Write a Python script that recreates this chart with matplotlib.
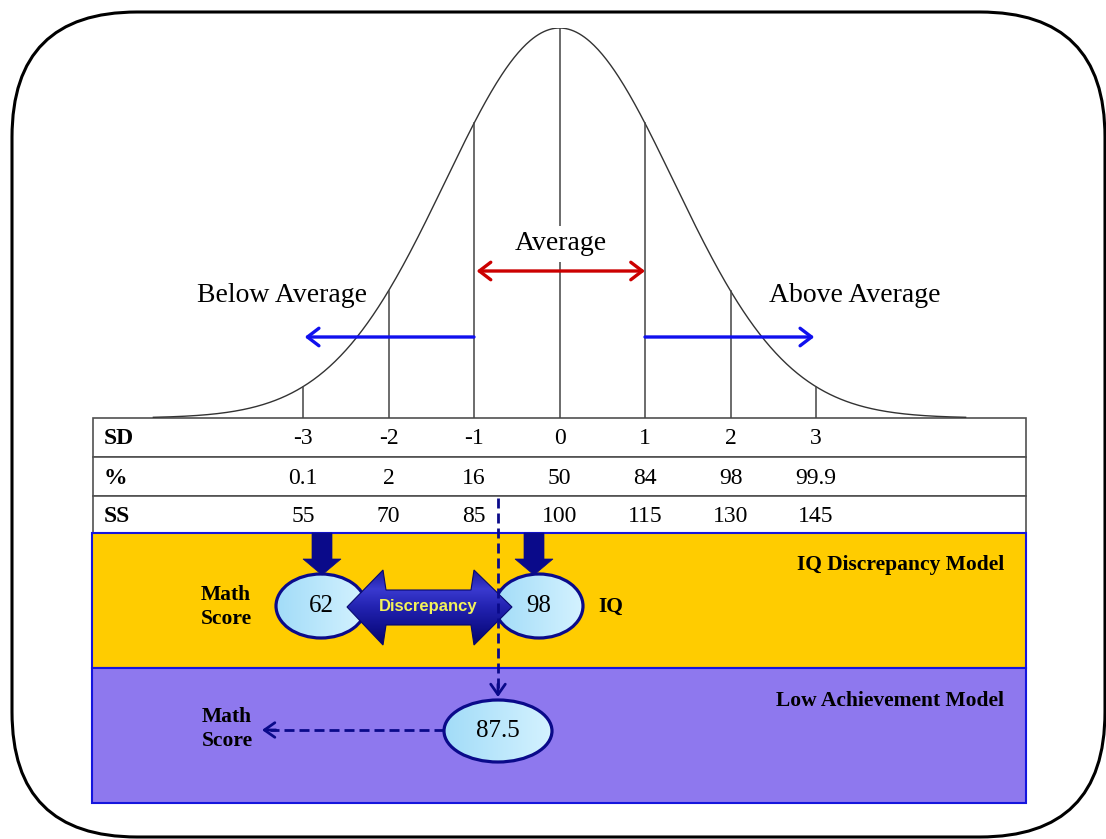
import numpy as np
import matplotlib
matplotlib.use("Agg")
import matplotlib.pyplot as plt
from matplotlib.patches import Rectangle, Ellipse, FancyBboxPatch, FancyArrow, Polygon
from matplotlib.transforms import blended_transform_factory
from matplotlib.colors import LinearSegmentedColormap

# ---------------- data ----------------
sd_values = [-3, -2, -1, 0, 1, 2, 3]
percentile_labels = ["0.1", "2", "16", "50", "84", "98", "99.9"]
standard_scores = [55, 70, 85, 100, 115, 130, 145]
row_labels = ["SD", "%", "SS"]
band_labels = ["Below Average", "Average", "Above Average"]
model_labels = ["IQ Discrepancy Model", "Low Achievement Model"]
math_score_discrepancy = 62
iq_score = 98
math_score_low_achievement = 87.5
curve_spread = 1.336   # visual spread of the drawn bell curve (in SD units)

# ---------------- layout ----------------
W, H = 1106, 839
SERIF = "Liberation Serif"
SANS = "Liberation Sans"
NAVY = "#0A0A8A"
BOX_EDGE = "#1515DD"

fig = plt.figure(figsize=(W / 100, H / 100), dpi=100)
ax = fig.add_axes([0, 0, 1, 1])
ax.axis("off")

PX_PER_SD, X0 = 85.5, 559.5
BASE_Y, PEAK_Y = 418, 28
axc = fig.add_axes([0, (H - BASE_Y) / H, 1, (BASE_Y - PEAK_Y) / H])
axc.set_xlim(-X0 / PX_PER_SD, (W - X0) / PX_PER_SD)
axc.set_ylim(0, 1)
axc.axis("off")
axc.patch.set_alpha(0)

# blended transform: x in SD units, y in pixel units
tr_sd = blended_transform_factory(axc.transData, ax.transData)

# outer rounded frame
frame = FancyBboxPatch((12, 12), 1093, 825, boxstyle="round,pad=0,rounding_size=125",
                       facecolor="white", edgecolor="black", lw=2.2, zorder=0)
ax.add_patch(frame)

# bell curve
xs = np.linspace(-4.75, 4.75, 600)
ys = np.exp(-xs ** 2 / (2 * curve_spread ** 2))
axc.plot(xs, ys, color="#333333", lw=1.0, zorder=2)
for sd in sd_values:
    axc.plot([sd, sd], [0, np.exp(-sd ** 2 / (2 * curve_spread ** 2))],
             color="#444444", lw=1.1, zorder=2)

# band labels and arrows
axc.text(0.02, 244, band_labels[1], transform=tr_sd, ha="center", va="center",
         fontsize=20, family=SERIF, zorder=5,
         bbox=dict(facecolor="white", edgecolor="none", pad=4))
axc.text(-3.25, 296, band_labels[0], transform=tr_sd, ha="center", va="center",
         fontsize=20, family=SERIF, zorder=5)
axc.text(3.45, 296, band_labels[2], transform=tr_sd, ha="center", va="center",
         fontsize=20, family=SERIF, zorder=5)

arrow_kw = dict(mutation_scale=15, shrinkA=0, shrinkB=0)
axc.annotate("", xy=(1.0, 271), xytext=(-0.97, 271), xycoords=tr_sd, textcoords=tr_sd,
             arrowprops=dict(arrowstyle="<->,head_length=0.55,head_width=0.42",
                             color="#CC0000", lw=2.4, **arrow_kw), zorder=6)
axc.annotate("", xy=(-2.98, 337), xytext=(-1, 337), xycoords=tr_sd, textcoords=tr_sd,
             arrowprops=dict(arrowstyle="->,head_length=0.55,head_width=0.42",
                             color="#1010EE", lw=2.4, **arrow_kw), zorder=6)
axc.annotate("", xy=(2.98, 337), xytext=(1, 337), xycoords=tr_sd, textcoords=tr_sd,
             arrowprops=dict(arrowstyle="->,head_length=0.55,head_width=0.42",
                             color="#1010EE", lw=2.4, **arrow_kw), zorder=6)

# table
TL, TR = 93, 1026
row_edges = [418, 457, 496, 533]
for i in range(3):
    ax.add_patch(Rectangle((TL, row_edges[i]), TR - TL, row_edges[i + 1] - row_edges[i],
                           facecolor="white", edgecolor="#505050", lw=1.2, zorder=1))
row_centers = [439, 478, 516]
for lab, yc in zip(row_labels, row_centers):
    ax.text(104, yc, lab, ha="left", va="center", fontsize=17, fontweight="bold",
            family=SERIF, zorder=5)
for sd, p, ss in zip(sd_values, percentile_labels, standard_scores):
    ax.text(sd, row_centers[0], f"{sd}", transform=tr_sd, ha="center", va="center",
            fontsize=17, family=SERIF, zorder=5)
    ax.text(sd, row_centers[1], p, transform=tr_sd, ha="center", va="center",
            fontsize=17, family=SERIF, zorder=5)
    ax.text(sd, row_centers[2], f"{ss}", transform=tr_sd, ha="center", va="center",
            fontsize=17, family=SERIF, zorder=5)

# model boxes
ax.add_patch(Rectangle((92, 533), 934, 135, facecolor="#FFCC00", edgecolor=BOX_EDGE,
                       lw=1.5, zorder=1))
ax.add_patch(Rectangle((92, 668), 934, 135, facecolor="#8E78EE", edgecolor=BOX_EDGE,
                       lw=1.5, zorder=1))
ax.text(1004, 565, model_labels[0], ha="right", va="center", fontsize=15.5,
        fontweight="bold", family=SERIF, zorder=5)
ax.text(1004, 701, model_labels[1], ha="right", va="center", fontsize=15.5,
        fontweight="bold", family=SERIF, zorder=5)


def grad_fill(patch, extent, colors, horizontal=False, zorder=3):
    x0, x1, y0, y1 = extent
    t = np.linspace(0, 1, 200)
    arr = np.tile(t, (200, 1)) if horizontal else np.tile(t[:, None], (1, 200))
    cmap = LinearSegmentedColormap.from_list("g", colors)
    im = ax.imshow(arr, cmap=cmap, extent=(x0, x1, y1, y0), origin="upper",
                   aspect="auto", zorder=zorder, interpolation="bilinear")
    im.set_clip_path(patch)


def bubble(cx, cy, w, h, label, zorder=3):
    e = Ellipse((cx, cy), w, h, facecolor="none", edgecolor=NAVY, lw=2.3, zorder=zorder + 0.5)
    ax.add_patch(e)
    grad_fill(e, (cx - w / 2, cx + w / 2, cy - h / 2, cy + h / 2),
              ["#A2DCF8", "#D4F2FF"], horizontal=True, zorder=zorder)
    ax.text(cx, cy, label, ha="center", va="center", fontsize=18, family=SERIF,
            zorder=zorder + 1)


bubble(321, 606, 90, 64, f"{math_score_discrepancy}")
bubble(539, 606, 88, 64, f"{iq_score}")
bubble(498, 731, 108, 62, f"{math_score_low_achievement}")

# thick down arrows into the bubbles
for x in (322, 534):
    ax.add_patch(FancyArrow(x, 533, 0, 42, width=20, head_width=38, head_length=16,
                            length_includes_head=True, facecolor=NAVY,
                            edgecolor=NAVY, lw=0.5, zorder=4))

# discrepancy double arrow
pts = [(347, 607), (383, 570), (386, 590), (471, 590), (474, 570), (512, 607),
       (474, 645), (471, 625), (386, 625), (383, 645)]
arr_poly = Polygon(pts, closed=True, facecolor="none", edgecolor="#08086E", lw=0.8, zorder=6.5)
ax.add_patch(arr_poly)
grad_fill(arr_poly, (347, 512, 570, 645),
          ["#1A1A9A", "#3A3AD0", "#2222B0", "#121290", "#06066A"], zorder=6)
ax.text(428, 607, "Discrepancy", ha="center", va="center", fontsize=12,
        fontweight="bold", family=SANS, color="#F2F25A", zorder=7)

# side labels
ax.text(226, 607, "Math\nScore", ha="center", va="center", fontsize=15.5, fontweight="bold",
        family=SERIF, linespacing=1.25, zorder=5)
ax.text(611, 607, "IQ", ha="center", va="center", fontsize=15.5, fontweight="bold",
        family=SERIF, zorder=5)
ax.text(227, 729, "Math\nScore", ha="center", va="center", fontsize=15.5, fontweight="bold",
        family=SERIF, linespacing=1.25, zorder=5)

# dashed connectors
ax.plot([498, 498], [498, 690], color=NAVY, lw=2.0, dashes=(3.6, 1.8), zorder=8)
ax.annotate("", xy=(498, 697), xytext=(498, 684),
            arrowprops=dict(arrowstyle="->,head_length=0.5,head_width=0.35", color=NAVY,
                            lw=2.0, mutation_scale=15, shrinkA=0, shrinkB=0), zorder=8)
ax.plot([444, 270], [730, 730], color=NAVY, lw=2.0, dashes=(3.6, 1.8), zorder=8)
ax.annotate("", xy=(262, 730), xytext=(276, 730),
            arrowprops=dict(arrowstyle="->,head_length=0.5,head_width=0.35", color=NAVY,
                            lw=2.0, mutation_scale=15, shrinkA=0, shrinkB=0), zorder=8)

ax.set_xlim(0, W)
ax.set_ylim(H, 0)
fig.savefig("out.png", dpi=100)
